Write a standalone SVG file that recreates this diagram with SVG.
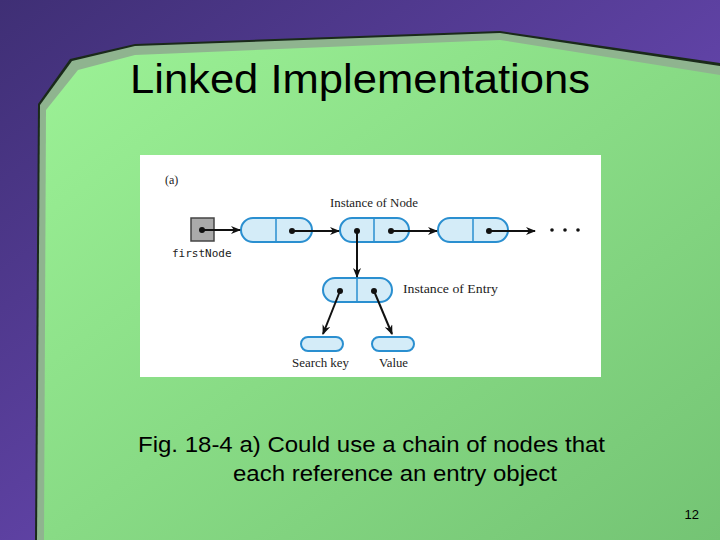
<svg xmlns="http://www.w3.org/2000/svg" width="720" height="540" viewBox="0 0 720 540">
<defs>
<linearGradient id="bg" x1="0" y1="0" x2="1" y2="1"><stop offset="0" stop-color="#3f2f75"/><stop offset="1" stop-color="#7a52cc"/></linearGradient>
<linearGradient id="gr" x1="0" y1="0" x2="1" y2="1"><stop offset="0" stop-color="#9cf296"/><stop offset="1" stop-color="#74c474"/></linearGradient>
<marker id="ah" markerWidth="10" markerHeight="8" refX="9" refY="4" orient="auto" markerUnits="userSpaceOnUse"><path d="M0,0 L10,4 L0,8 L3,4 Z" fill="#111"/></marker>
<style>
.box{fill:#d4ecf8;stroke:#2a8fd0;stroke-width:2}
.div{stroke:#2a8fd0;stroke-width:1.5}
.dot{fill:#111}
.ln{stroke:#111;stroke-width:2;fill:none;marker-end:url(#ah)}
.lb{font-family:"Liberation Serif",serif;font-size:12px;fill:#222}
.ss{font-family:"Liberation Sans",Arial,sans-serif;fill:#000}
</style>
</defs>
<rect width="720" height="540" fill="url(#bg)"/>
<path d="M35,540 L38,104 L70,59 L135,44 L500,31 L720,63 L720,540 Z" fill="#1a2a1a"/>
<path d="M37,540 L40,105 L72,61 L135,46 L500,33 L720,66 L720,540 Z" fill="#8fb48f"/>
<path d="M44,540 L46,110 L78,70 L135,55 L500,40 L720,75 L720,540 Z" fill="url(#gr)"/>
<text x="130" y="93" class="ss" font-size="41" textLength="460" lengthAdjust="spacingAndGlyphs">Linked Implementations</text>
<rect x="140" y="155" width="461" height="222" fill="#fff"/>
<text x="165" y="184" class="lb">(a)</text>
<g id="firstNode"><rect x="191" y="218" width="23" height="23" fill="#aaa" stroke="#444" stroke-width="1.5"/><circle cx="202" cy="230" r="3" class="dot"/><text x="172" y="257" font-family="DejaVu Sans Mono,monospace" font-size="11" fill="#222">firstNode</text></g>
<g id="node1"><rect x="241" y="218" width="71" height="24" rx="12" class="box"/><line x1="276" y1="218" x2="276" y2="242" class="div"/><circle cx="292" cy="231" r="3" class="dot"/></g>
<g id="node2"><rect x="340" y="218" width="69" height="24" rx="12" class="box"/><line x1="374" y1="218" x2="374" y2="242" class="div"/><circle cx="357" cy="231" r="3" class="dot"/><circle cx="391" cy="231" r="3" class="dot"/><text x="330" y="207" class="lb" textLength="88" lengthAdjust="spacingAndGlyphs">Instance of Node</text></g>
<g id="node3"><rect x="438" y="218" width="70" height="24" rx="12" class="box"/><line x1="473" y1="218" x2="473" y2="242" class="div"/><circle cx="489" cy="231" r="3" class="dot"/></g>
<g id="ellipsis" class="dot"><circle cx="552" cy="230" r="1.8"/><circle cx="565" cy="230" r="1.8"/><circle cx="578" cy="230" r="1.8"/></g>
<g id="entry"><rect x="323" y="278" width="69" height="24" rx="12" class="box"/><line x1="357" y1="278" x2="357" y2="302" class="div"/><circle cx="340" cy="291" r="3" class="dot"/><circle cx="374" cy="291" r="3" class="dot"/><text x="403" y="293" class="lb" textLength="95" lengthAdjust="spacingAndGlyphs">Instance of Entry</text></g>
<g id="searchkey"><rect x="301" y="337" width="42" height="14" rx="7" class="box"/><text x="292" y="367" class="lb" textLength="57" lengthAdjust="spacingAndGlyphs">Search key</text></g>
<g id="value"><rect x="372" y="337" width="42" height="14" rx="7" class="box"/><text x="379" y="367" class="lb" textLength="29" lengthAdjust="spacingAndGlyphs">Value</text></g>
<g id="connectors">
<line x1="202" y1="230" x2="240" y2="230" class="ln"/>
<line x1="292" y1="231" x2="339" y2="231" class="ln"/>
<line x1="391" y1="231" x2="437" y2="231" class="ln"/>
<line x1="489" y1="231" x2="535" y2="231" class="ln"/>
<line x1="357" y1="231" x2="357" y2="277" class="ln"/>
<line x1="340" y1="291" x2="323" y2="334" class="ln"/>
<line x1="374" y1="291" x2="392" y2="334" class="ln"/>
</g>
<text x="138" y="452" class="ss" font-size="22" textLength="467" lengthAdjust="spacingAndGlyphs">Fig. 18-4 a) Could use a chain of nodes that</text>
<text x="233" y="481" class="ss" font-size="22" textLength="324" lengthAdjust="spacingAndGlyphs">each reference an entry object</text>
<text x="699" y="519" text-anchor="end" class="ss" font-size="13">12</text>
</svg>
